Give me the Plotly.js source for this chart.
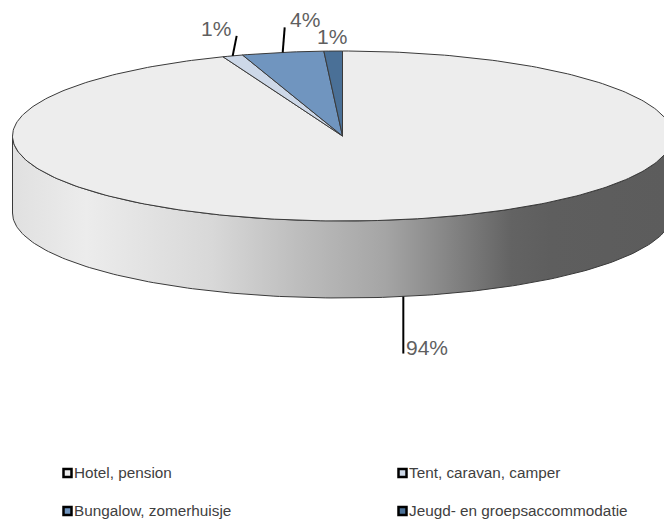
<!DOCTYPE html>
<html>
<head>
<meta charset="utf-8">
<script src="https://cdn.plot.ly/plotly-3.0.1.min.js"></script>
<style>html,body{margin:0;padding:0;background:#fff}#c{width:664px;height:522px}</style>
</head>
<body>
<div id="c"></div>
<script>
const categories = ["Hotel, pension", "Tent, caravan, camper", "Bungalow, zomerhuisje", "Jeugd- en groepsaccommodatie"];
const shares = [94.1, 1.0, 4.0, 0.9];
const shareLabels = ["94%", "1%", "4%", "1%"];
const sliceColors = ["#ededed", "#cdd8e8", "#7095bf", "#4a7097"];
const legendColumns = [62, 397];
const legendRows = [473, 511];

const FONT = "Liberation Sans, Arial, sans-serif";
const cx = 342.5, cy = 136, rx = 330, ry = 85, depth = 77;
const edge = "#3a3a3a";

const total = shares.reduce((a, b) => a + b, 0);
const px = t => cx + rx * Math.sin(t * Math.PI / 180);
const py = (t, d) => cy + (d || 0) - ry * Math.cos(t * Math.PI / 180);
function arc(a, b, d) {
  const n = Math.max(2, Math.ceil(Math.abs(b - a)));
  const xs = [], ys = [];
  for (let i = 0; i <= n; i++) {
    const t = a + (b - a) * i / n;
    xs.push(px(t)); ys.push(py(t, d));
  }
  return [xs, ys];
}

const traces = [];
// side wall
const [tx, ty] = arc(90, 270, 0);
const [bx, by] = arc(270, 90, depth);
traces.push({
  type: "scatter", mode: "lines", x: tx.concat(bx, [tx[0]]), y: ty.concat(by, [ty[0]]),
  fill: "toself",
  fillgradient: {
    type: "horizontal", start: 0, stop: 664,
    colorscale: [[0, "#dedede"], [0.13, "#ececec"], [0.32, "#d8d8d8"], [0.45, "#bdbdbd"], [0.58, "#a5a5a5"],
                 [0.67, "#878787"], [0.77, "#636363"], [0.83, "#5e5e5e"], [1, "#5c5c5c"]]
  },
  line: { color: edge, width: 1 }, hoverinfo: "skip"
});

// top slices
let start = 0;
const mids = [];
shares.forEach((v, i) => {
  const end = start + v / total * 360;
  mids.push((start + end) / 2);
  const [ax, ay] = arc(start, end, 0);
  traces.push({
    type: "scatter", mode: "lines", name: categories[i],
    x: [cx].concat(ax, [cx]), y: [cy].concat(ay, [cy]),
    fill: "toself", fillcolor: sliceColors[i],
    line: { color: edge, width: 1 }, hoverinfo: "skip"
  });
  start = end;
});

// leader lines
const leaderLen = [57, 20, 25, 0];
shares.forEach((v, i) => {
  if (!leaderLen[i]) return;
  const front = i === 0;
  const x0 = px(mids[i]), y0 = py(mids[i], front ? depth : 0);
  const lean = i === 1 ? 4 : (i === 2 ? 2 : 0);
  traces.push({
    type: "scatter", mode: "lines", x: [x0, x0 + lean],
    y: [y0, front ? y0 + leaderLen[i] : y0 - leaderLen[i]],
    line: { color: "#000", width: 2 }, hoverinfo: "skip"
  });
});

// legend swatches
const sw = { x: [], y: [], c: [] };
const annotations = [];
categories.forEach((c, i) => {
  const x = legendColumns[i % 2] + 5.5, y = legendRows[Math.floor(i / 2)];
  sw.x.push(x); sw.y.push(y); sw.c.push(sliceColors[i]);
  annotations.push({
    x: x + 6.5, y: y - 1, xref: "x", yref: "y", text: c, showarrow: false, xanchor: "left", yanchor: "middle",
    font: { family: FONT, size: 15.3, color: "#404040" }, borderpad: 0, borderwidth: 0
  });
});
traces.push({
  type: "scatter", mode: "markers", x: sw.x, y: sw.y, hoverinfo: "skip",
  marker: { symbol: "square", size: 8, color: sw.c, line: { color: "#000", width: 2.5 } }
});

// percent labels
const labelPos = [[404.5, 347], [199.5, 28], [288.5, 19], [315.5, 36]];
shareLabels.forEach((t, i) => annotations.push({
  x: labelPos[i][0], y: labelPos[i][1], xref: "x", yref: "y", text: t, showarrow: false,
  xanchor: "left", yanchor: "middle", borderpad: 0,
  font: { family: FONT, size: 21, color: "#5f5f5f" }
}));

const axis = { visible: false, fixedrange: true };
Plotly.newPlot("c", traces, {
  width: 664, height: 522, showlegend: false,
  margin: { l: 0, r: 0, t: 0, b: 0, pad: 0 },
  paper_bgcolor: "#fff", plot_bgcolor: "#fff",
  xaxis: Object.assign({ range: [0, 664] }, axis),
  yaxis: Object.assign({ range: [522, 0] }, axis),
  annotations: annotations
}, { displayModeBar: false, staticPlot: true });
</script>
</body>
</html>
